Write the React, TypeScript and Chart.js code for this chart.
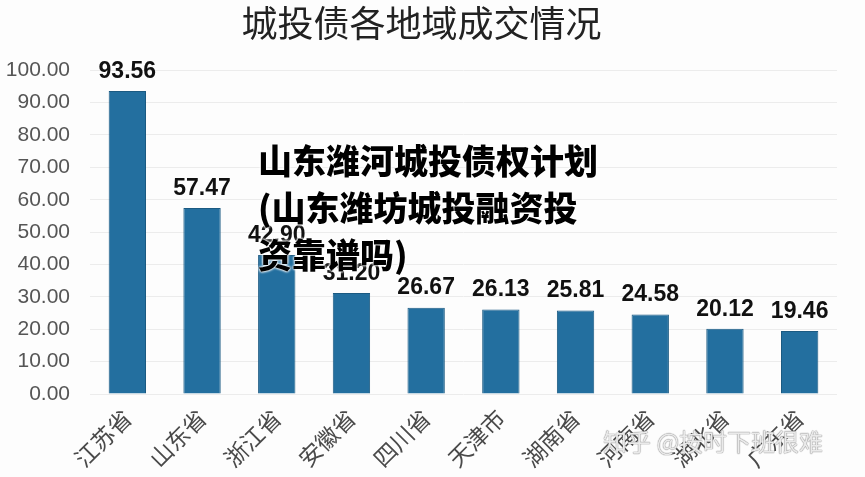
import React, { useEffect, useRef } from "react";
import { Chart, registerables } from "chart.js";

Chart.register(...registerables);

const categories = ["江苏省", "山东省", "浙江省", "安徽省", "四川省", "天津市", "湖南省", "河南省", "湖北省", "广东省"];
const values = [93.56, 57.47, 42.9, 31.2, 26.67, 26.13, 25.81, 24.58, 20.12, 19.46];
const yTicks = [0, 10, 20, 30, 40, 50, 60, 70, 80, 90, 100];
const titleText = "城投债各地域成交情况";
const overlayText = "山东潍河城投债权计划(山东潍坊城投融资投资靠谱吗)";
const watermarkText = "知乎 @按时下班很难";

const labelPlugin = {
  id: "barLabels",
  afterDatasetsDraw(chart: any) {
    const ctx = chart.ctx;
    const meta = chart.getDatasetMeta(0);
    ctx.save();
    ctx.font = "bold 23px 'Liberation Sans', Arial, sans-serif";
    ctx.fillStyle = "#111";
    ctx.textAlign = "center";
    ctx.textBaseline = "bottom";
    meta.data.forEach((bar: any, i: number) => {
      ctx.fillText(values[i].toFixed(2), bar.x, bar.y - 8);
    });
    ctx.restore();
  },
};

export default function App() {
  const ref = useRef<HTMLCanvasElement>(null);
  useEffect(() => {
    if (!ref.current) return;
    const chart = new Chart(ref.current, {
      type: "bar",
      data: {
        labels: categories,
        datasets: [
          {
            data: values,
            backgroundColor: "#236f9f",
            borderColor: "#1b5a82",
            borderWidth: 1,
            barPercentage: 0.5,
            categoryPercentage: 1,
          },
        ],
      },
      options: {
        animation: false,
        responsive: false,
        maintainAspectRatio: false,
        layout: { padding: { left: 6, right: 28, top: 0, bottom: 0 } },
        plugins: {
          legend: { display: false },
          tooltip: { enabled: false },
          title: {
            display: true,
            text: titleText,
            color: "#222",
            font: { size: 36, family: "'Noto Sans CJK SC', sans-serif", weight: "normal", lineHeight: 1.2 },
            padding: { top: 2, bottom: 25 },
          },
        },
        scales: {
          x: {
            grid: { display: false },
            border: { display: false },
            ticks: {
              minRotation: 45,
              maxRotation: 45,
              color: "#4a4a4a",
              font: { size: 23, family: "'Noto Sans CJK SC', sans-serif" },
              padding: 2,
            },
            afterFit(scale: any) {
              scale.height = 83;
            },
          },
          y: {
            min: 0,
            max: 100,
            afterBuildTicks(scale: any) {
              scale.ticks = yTicks.map((v) => ({ value: v }));
            },
            grid: { color: "#ececec", drawTicks: false },
            border: { display: false },
            ticks: {
              color: "#555",
              font: { size: 21, family: "'Liberation Sans', Arial, sans-serif" },
              padding: 20,
              callback: (v: any) => Number(v).toFixed(2),
            },
            afterFit(scale: any) {
              scale.width = 84;
            },
          },
        },
      },
      plugins: [labelPlugin],
    });
    return () => chart.destroy();
  }, []);

  return (
    <div style={{ position: "absolute", left: 0, top: 0, width: 865, height: 477, background: "#fdfdfd", overflow: "hidden" }}>
      <canvas ref={ref} width={865} height={477} style={{ display: "block", width: 865, height: 477 }} />
      <div
        style={{
          position: "absolute",
          left: 258,
          top: 136,
          width: 348,
          fontFamily: "'Noto Sans CJK SC', sans-serif",
          fontWeight: 900,
          fontSize: 34,
          lineHeight: "47px",
          color: "#000",
          textShadow: "0 0 3px #fff, 0 0 3px #fff, 0 0 2px #fff",
          letterSpacing: 0,
        }}
      >
        {overlayText}
      </div>
      <div
        style={{
          position: "absolute",
          left: 603,
          top: 423,
          fontFamily: "'Noto Sans CJK SC', sans-serif",
          fontSize: 24,
          color: "rgba(255,255,255,0.85)",
          textShadow: "0 0 1px #777, 0 0 1px #777",
          whiteSpace: "nowrap",
        }}
      >
        {watermarkText}
      </div>
    </div>
  );
}
